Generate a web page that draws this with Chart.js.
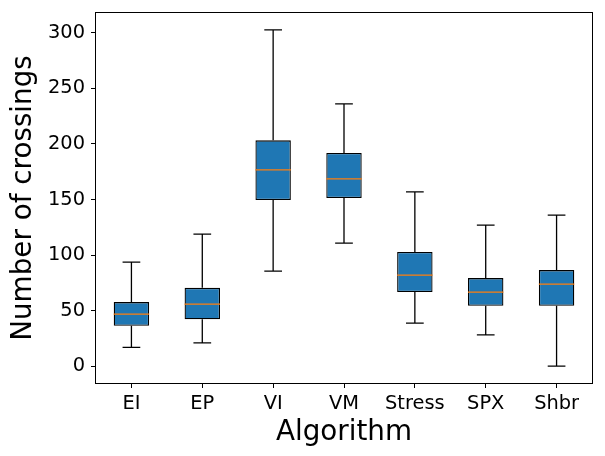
<!DOCTYPE html>
<html>
<head>
<meta charset="utf-8">
<script src="https://cdn.jsdelivr.net/npm/chart.js@4"></script>
<style>
  html, body { margin: 0; padding: 0; background: #fff; }
  #wrap { width: 605px; height: 456px; }
</style>
</head>
<body>
<div id="wrap"><canvas id="chart" width="605" height="456"></canvas></div>
<script>
const algorithms = ['EI', 'EP', 'VI', 'VM', 'Stress', 'SPX', 'Shbr'];
const whiskerLow = [17, 21, 85.6, 110.8, 38.7, 28.2, 0];
const quartile1 = [36.3, 42.3, 149.5, 151.4, 66.7, 54.3, 54.3];
const medians = [46.8, 55.8, 176.6, 168.5, 82, 66.7, 73.9];
const quartile3 = [57.7, 70.5, 203.2, 191.9, 102.7, 79.3, 86.5];
const whiskerHigh = [93.7, 118.9, 302.7, 236, 156.8, 127, 136];
const yTicks = [0, 50, 100, 150, 200, 250, 300];

const FONT = 'DejaVu Sans';
const LINE = 1.3;

Chart.defaults.color = '#000';
Chart.defaults.font.family = FONT;

// whiskers, caps, medians and the axes frame
const boxExtras = {
  id: 'boxExtras',
  afterDatasetsDraw(chart) {
    const { ctx, scales: { x, y }, chartArea } = chart;
    const slot = (chartArea.right - chartArea.left) / algorithms.length;
    const capHalf = slot * 0.125;
    const boxHalf = slot * 0.25;
    ctx.save();
    ctx.lineWidth = LINE;
    ctx.strokeStyle = '#000';
    algorithms.forEach((name, i) => {
      const cx = x.getPixelForValue(i);
      const lo = y.getPixelForValue(whiskerLow[i]);
      const q1 = y.getPixelForValue(quartile1[i]);
      const q3 = y.getPixelForValue(quartile3[i]);
      const hi = y.getPixelForValue(whiskerHigh[i]);
      ctx.beginPath();
      ctx.moveTo(cx, q1); ctx.lineTo(cx, lo);
      ctx.moveTo(cx, q3); ctx.lineTo(cx, hi);
      ctx.moveTo(cx - capHalf, lo); ctx.lineTo(cx + capHalf, lo);
      ctx.moveTo(cx - capHalf, hi); ctx.lineTo(cx + capHalf, hi);
      ctx.stroke();
    });
    ctx.strokeStyle = '#ff7f0e';
    algorithms.forEach((name, i) => {
      const cx = x.getPixelForValue(i);
      const m = y.getPixelForValue(medians[i]);
      ctx.beginPath();
      ctx.moveTo(cx - boxHalf, m); ctx.lineTo(cx + boxHalf, m);
      ctx.stroke();
    });
    ctx.strokeStyle = '#000';
    ctx.lineWidth = 1;
    ctx.strokeRect(chartArea.left - 0.5, chartArea.top - 0.5,
      chartArea.right - chartArea.left + 1, chartArea.bottom - chartArea.top + 1);
    ctx.restore();
  }
};

new Chart(document.getElementById('chart'), {
  type: 'bar',
  data: {
    labels: algorithms,
    datasets: [{
      data: algorithms.map((name, i) => [quartile1[i], quartile3[i]]),
      backgroundColor: '#1f77b4',
      borderColor: '#000',
      borderWidth: LINE,
      borderSkipped: false,
      categoryPercentage: 1,
      barPercentage: 0.5
    }]
  },
  options: {
    responsive: false,
    animation: false,
    layout: { padding: { top: 13, right: 13, left: 0, bottom: 0 } },
    plugins: { legend: { display: false }, tooltip: { enabled: false } },
    scales: {
      x: {
        grid: { offset: false, drawOnChartArea: false, color: '#000', tickLength: 5, lineWidth: 1 },
        border: { display: false },
        ticks: { font: { size: 19.4 }, padding: 4, color: '#000' },
        title: { display: true, text: 'Algorithm', font: { size: 27.8 }, padding: { top: 0, bottom: 7 } },
        afterFit(scale) {
          scale.height = 73;
          scale.paddingLeft = 0;
          scale.paddingRight = 0;
        }
      },
      y: {
        min: -15.1,
        max: 317.8,
        grid: { drawOnChartArea: false, color: '#000', tickLength: 5, lineWidth: 1 },
        border: { display: false },
        ticks: { font: { size: 19.4 }, padding: 6, color: '#000' },
        afterBuildTicks(scale) { scale.ticks = yTicks.map((v) => ({ value: v })); },
        title: { display: true, text: 'Number of crossings', font: { size: 27.8 }, padding: { top: 7, bottom: 0 } },
        afterFit(scale) {
          scale.width = 96;
          scale.paddingTop = 0;
          scale.paddingBottom = 0;
        }
      }
    }
  },
  plugins: [boxExtras]
});
</script>
</body>
</html>
